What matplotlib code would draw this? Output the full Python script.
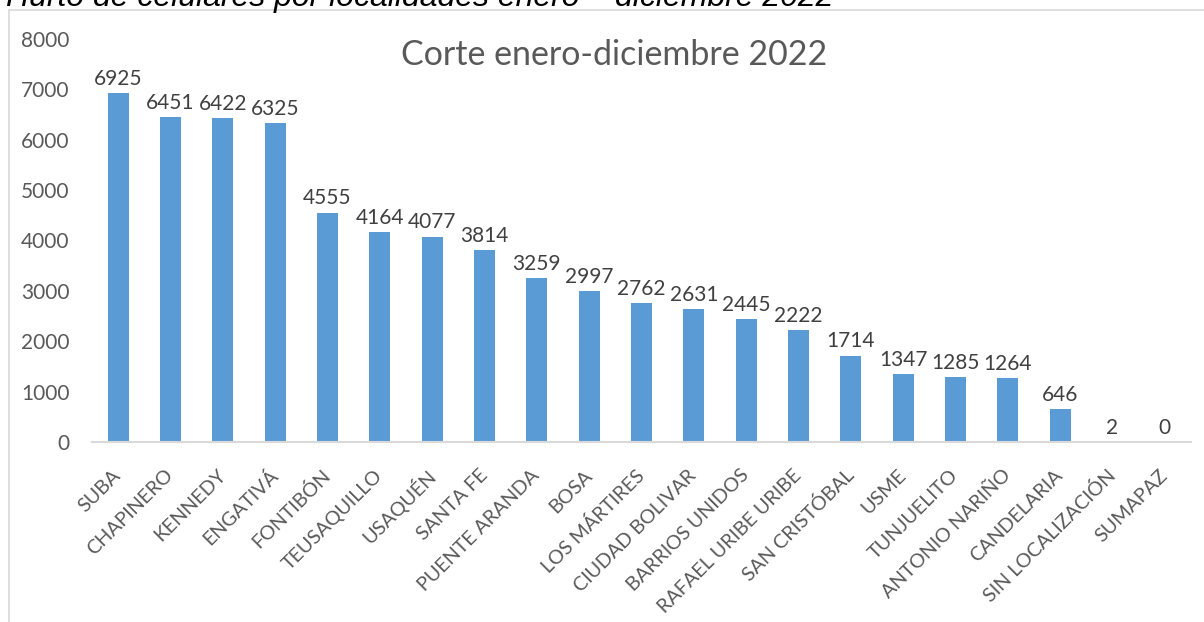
import matplotlib
matplotlib.use('Agg')
import matplotlib.pyplot as plt
from matplotlib.patches import Rectangle

localidades = ['SUBA', 'CHAPINERO', 'KENNEDY', 'ENGATIVÁ', 'FONTIBÓN', 'TEUSAQUILLO',
               'USAQUÉN', 'SANTA FE', 'PUENTE ARANDA', 'BOSA', 'LOS MÁRTIRES',
               'CIUDAD BOLIVAR', 'BARRIOS UNIDOS', 'RAFAEL URIBE URIBE', 'SAN CRISTÓBAL',
               'USME', 'TUNJUELITO', 'ANTONIO NARIÑO', 'CANDELARIA', 'SIN LOCALIZACIÓN',
               'SUMAPAZ']
hurtos = [6925, 6451, 6422, 6325, 4555, 4164, 4077, 3814, 3259, 2997, 2762,
          2631, 2445, 2222, 1714, 1347, 1285, 1264, 646, 2, 0]
yticks = [0, 1000, 2000, 3000, 4000, 5000, 6000, 7000, 8000]

plt.rcParams['font.family'] = ['Lato', 'DejaVu Sans']
gris = '#595959'
W, H = 1204, 622

fig = plt.figure(figsize=(W / 100, H / 100), dpi=100)
fig.patch.set_facecolor('white')

# marco del area del grafico (sigue fuera de la imagen)
fig.add_artist(Rectangle((9 / W, -0.1), 1.2, 1.1 - 10 / H, transform=fig.transFigure,
                         fill=False, edgecolor='#D9D9D9', linewidth=1.2))

# titulo del documento, cortado por arriba como en el original
fig.text(6 / W, 1 - 6 / H, 'Hurto de celulares por localidades enero – diciembre 2022',
         fontsize=23, style='italic', family='Liberation Sans', va='baseline', ha='left')

ax = fig.add_axes([92 / W, 1 - 442 / H, 1099 / W, 403 / H])
x = range(len(localidades))
ax.bar(x, hurtos, width=0.40, color='#5B9BD5')

for i, v in enumerate(hurtos):
    ax.annotate(str(v), (i, v), xytext=(0, 3), textcoords='offset points',
                ha='center', va='bottom', fontsize=15, color='#404040')

ax.set_xlim(-0.5, len(localidades) - 0.5)
ax.set_ylim(0, 8000)
ax.set_yticks(yticks)
ax.set_yticklabels([str(t) for t in yticks], fontsize=15, color=gris)
ax.set_xticks(list(x))
ax.set_xticklabels(localidades, rotation=45, ha='right', va='center',
                   rotation_mode='anchor', fontsize=14.2, color=gris)
ax.tick_params(axis='both', length=0)
ax.tick_params(axis='y', pad=16)
ax.tick_params(axis='x', pad=22)
for s in ['top', 'right', 'left']:
    ax.spines[s].set_visible(False)
ax.spines['bottom'].set_color('#D9D9D9')
ax.spines['bottom'].set_linewidth(1.5)

fig.text(614 / W, 1 - 65 / H, 'Corte enero-diciembre 2022', ha='center', va='baseline',
         fontsize=24.5, color=gris)

fig.savefig('out.png', dpi=100)
